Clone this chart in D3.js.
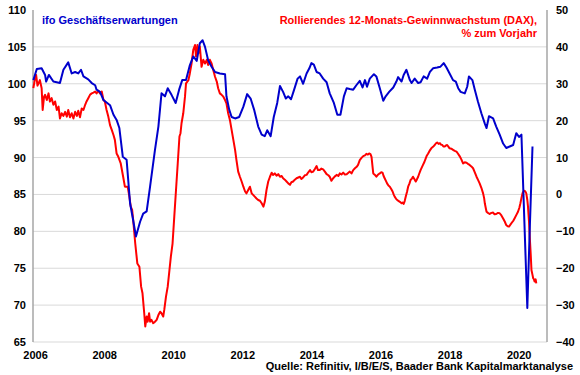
<!DOCTYPE html>
<html>
<head>
<meta charset="utf-8">
<script src="https://cdn.jsdelivr.net/npm/d3@7"></script>
<style>
  body { margin: 0; background: #fff; }
  svg text { font-family: "Liberation Sans", Arial, sans-serif; font-weight: bold; }
</style>
</head>
<body>
<div id="chart"></div>
<script>
// ifo Geschäftserwartungen (left axis)
const ifoYears = [2005.95, 2006.05, 2006.19, 2006.29, 2006.32, 2006.40, 2006.53, 2006.72, 2006.82, 2006.96,
  2007.06, 2007.16, 2007.25, 2007.33, 2007.40, 2007.54, 2007.64, 2007.74, 2007.78, 2007.88, 2007.98,
  2008.17, 2008.27, 2008.36, 2008.44, 2008.54, 2008.65, 2008.75, 2008.84, 2008.92,
  2009.04, 2009.13, 2009.23, 2009.33, 2009.47, 2009.57, 2009.66, 2009.76, 2009.84, 2009.95,
  2010.07, 2010.17, 2010.26, 2010.37, 2010.48, 2010.58, 2010.68, 2010.77, 2010.85, 2010.92,
  2011.01, 2011.11, 2011.21, 2011.35, 2011.50, 2011.54, 2011.62, 2011.69, 2011.79, 2011.91,
  2012.03, 2012.14, 2012.24, 2012.34, 2012.46, 2012.56, 2012.65, 2012.72, 2012.82, 2012.91,
  2013.01, 2013.09, 2013.18, 2013.26, 2013.33, 2013.41, 2013.50, 2013.60, 2013.67, 2013.76, 2013.86, 2013.94,
  2014.00, 2014.07, 2014.15, 2014.24, 2014.34, 2014.44, 2014.53, 2014.65, 2014.75, 2014.84, 2014.94,
  2015.02, 2015.11, 2015.21, 2015.30, 2015.40, 2015.48, 2015.55, 2015.61, 2015.69, 2015.81, 2015.88, 2015.98,
  2016.08, 2016.15, 2016.25, 2016.37, 2016.46, 2016.51, 2016.61, 2016.67, 2016.75, 2016.85, 2016.90, 2016.99,
  2017.09, 2017.16, 2017.25, 2017.35, 2017.43, 2017.52, 2017.64, 2017.73, 2017.83, 2017.91,
  2018.00, 2018.10, 2018.18, 2018.25, 2018.32, 2018.44, 2018.51, 2018.56, 2018.66, 2018.73, 2018.82, 2018.92,
  2019.02, 2019.07, 2019.14, 2019.26, 2019.35, 2019.45, 2019.55, 2019.64, 2019.74, 2019.84, 2019.93,
  2020.01, 2020.08, 2020.25, 2020.32, 2020.40];
const ifoValues = [100.5, 102.0, 102.1, 101.2, 100.3, 101.2, 100.3, 100.1, 101.9, 102.9,
  101.4, 101.6, 101.4, 101.9, 101.0, 100.6, 100.1, 99.8, 99.2, 98.9, 97.8,
  97.1, 95.8, 95.1, 94.0, 90.1, 89.7, 83.8, 81.5, 79.3,
  81.3, 82.4, 82.7, 86.1, 91.0, 94.2, 98.7, 98.3, 99.4, 98.5,
  97.4, 99.2, 100.5, 100.5, 102.5, 103.7, 103.1, 105.5, 105.9, 105.0,
  103.2, 102.3, 101.6, 101.4, 101.3, 98.3, 96.5, 95.5, 95.3, 95.5,
  96.9, 98.6, 98.0, 96.5, 94.2, 93.1, 92.9, 93.7, 92.9, 95.5,
  97.4, 99.7, 98.9, 98.0, 98.3, 97.9, 99.2, 100.7, 101.0, 100.0, 101.4, 102.1,
  102.8, 102.6, 101.6, 101.4, 100.7, 100.2, 98.7, 97.4, 95.8, 95.8, 98.3,
  99.4, 99.3, 99.2, 99.8, 100.4, 99.5, 100.5, 99.6, 100.7, 101.3, 101.0, 99.4,
  97.7, 98.3, 98.9, 99.5, 100.3, 100.9, 100.3, 101.2, 101.9, 100.5, 100.1, 100.7,
  100.1, 100.2, 101.0, 100.7, 101.6, 102.1, 102.2, 102.3, 102.8, 102.2,
  101.4, 100.5, 100.3, 99.4, 98.9, 98.7, 99.6, 101.0, 100.5, 99.2, 97.6, 96.0,
  94.6, 94.0, 95.6, 95.3, 94.2, 93.1, 91.9, 91.3, 91.5, 91.7, 93.3,
  92.8, 93.1, 69.6, 80.2, 91.5];

// Rollierendes 12-Monats-Gewinnwachstum DAX in % (right axis)
const daxYears = [2005.95, 2006.00, 2006.03, 2006.07, 2006.10, 2006.14, 2006.19, 2006.22, 2006.26, 2006.29,
  2006.34, 2006.39, 2006.43, 2006.48, 2006.53, 2006.58, 2006.63, 2006.68, 2006.72, 2006.77,
  2006.82, 2006.87, 2006.92, 2006.96, 2007.01, 2007.06, 2007.11, 2007.16, 2007.21, 2007.25,
  2007.30, 2007.35, 2007.40, 2007.45, 2007.49, 2007.54, 2007.59, 2007.64, 2007.69, 2007.74,
  2007.78, 2007.83, 2007.88, 2007.93, 2007.98, 2008.02, 2008.07, 2008.12, 2008.17, 2008.22,
  2008.27, 2008.31, 2008.36, 2008.41, 2008.48, 2008.55, 2008.60, 2008.68, 2008.73, 2008.77,
  2008.81, 2008.84, 2008.90, 2008.96, 2009.02, 2009.07, 2009.11, 2009.16, 2009.19, 2009.23,
  2009.26, 2009.30, 2009.33, 2009.37, 2009.42, 2009.47, 2009.52, 2009.57, 2009.62, 2009.66,
  2009.71, 2009.74, 2009.79, 2009.84, 2009.89, 2009.93, 2009.98, 2010.03, 2010.08, 2010.13,
  2010.18, 2010.21, 2010.24, 2010.29, 2010.34, 2010.37, 2010.44, 2010.48, 2010.53, 2010.58,
  2010.63, 2010.66, 2010.70, 2010.73, 2010.77, 2010.82, 2010.87, 2010.92, 2010.97, 2011.01,
  2011.06, 2011.11, 2011.16, 2011.21, 2011.26, 2011.30, 2011.35, 2011.40, 2011.45, 2011.50,
  2011.54, 2011.59, 2011.64, 2011.69, 2011.74, 2011.79, 2011.83, 2011.88, 2011.93, 2011.98,
  2012.03, 2012.08, 2012.12, 2012.17, 2012.22, 2012.27, 2012.32, 2012.36, 2012.41, 2012.46,
  2012.51, 2012.56, 2012.61, 2012.65, 2012.70, 2012.75, 2012.80, 2012.85, 2012.89, 2012.94,
  2012.99, 2013.04, 2013.09, 2013.14, 2013.18, 2013.23, 2013.28, 2013.33, 2013.38, 2013.42,
  2013.47, 2013.52, 2013.57, 2013.62, 2013.67, 2013.71, 2013.76, 2013.81, 2013.86, 2013.91,
  2013.96, 2014.00, 2014.05, 2014.10, 2014.15, 2014.19, 2014.24, 2014.29, 2014.34, 2014.39,
  2014.44, 2014.49, 2014.53, 2014.58, 2014.63, 2014.68, 2014.73, 2014.78, 2014.82, 2014.87,
  2014.92, 2014.97, 2015.02, 2015.07, 2015.11, 2015.16, 2015.21, 2015.26, 2015.31, 2015.35,
  2015.40, 2015.45, 2015.50, 2015.55, 2015.59, 2015.63, 2015.67, 2015.71, 2015.74, 2015.77,
  2015.79, 2015.84, 2015.88, 2015.93, 2015.98, 2016.02, 2016.06, 2016.09, 2016.12, 2016.16,
  2016.19, 2016.23, 2016.27, 2016.31, 2016.35, 2016.38, 2016.41, 2016.46, 2016.51, 2016.56,
  2016.61, 2016.64, 2016.67, 2016.70, 2016.73, 2016.77, 2016.80, 2016.84, 2016.87, 2016.91,
  2016.94, 2016.98, 2017.02, 2017.05, 2017.09, 2017.12, 2017.16, 2017.19, 2017.23, 2017.27,
  2017.31, 2017.34, 2017.38, 2017.42, 2017.47, 2017.52, 2017.57, 2017.60, 2017.64, 2017.68,
  2017.72, 2017.75, 2017.79, 2017.82, 2017.86, 2017.90, 2017.93, 2017.97, 2018.00, 2018.05,
  2018.10, 2018.15, 2018.20, 2018.24, 2018.29, 2018.34, 2018.39, 2018.44, 2018.49, 2018.53,
  2018.58, 2018.63, 2018.68, 2018.73, 2018.78, 2018.82, 2018.87, 2018.92, 2018.97, 2019.00,
  2019.02, 2019.05, 2019.07, 2019.11, 2019.16, 2019.21, 2019.26, 2019.30, 2019.35, 2019.40,
  2019.45, 2019.50, 2019.55, 2019.60, 2019.64, 2019.68, 2019.72, 2019.76, 2019.79, 2019.84,
  2019.88, 2019.93, 2019.98, 2020.02, 2020.05, 2020.08, 2020.11, 2020.14, 2020.17, 2020.20,
  2020.22, 2020.25, 2020.27, 2020.30, 2020.32, 2020.35, 2020.37, 2020.40, 2020.42, 2020.44,
  2020.46, 2020.49, 2020.51];
const daxValues = [28.8, 31.5, 32.4, 29.5, 30.1, 31.0, 28.8, 22.9, 26.5, 27.0,
  25.6, 27.4, 25.2, 26.1, 24.3, 25.2, 22.9, 23.8, 20.6, 22.0,
  21.3, 22.4, 21.1, 22.9, 20.9, 22.0, 20.6, 22.4, 21.3, 22.7,
  20.9, 23.3, 22.9, 24.3, 25.2, 26.1, 27.0, 27.4, 27.6, 27.9,
  27.4, 28.1, 27.4, 27.9, 25.6, 25.2, 22.9, 21.1, 18.8, 17.5,
  16.1, 14.8, 11.1, 10.2, 8.4, 4.8, 2.1, 2.1, -0.6, -3.3,
  -4.2, -6.9, -13.3, -18.7, -19.6, -25.0, -26.8, -32.2, -35.8, -33.1,
  -34.5, -32.2, -34.5, -34.0, -34.9, -34.5, -34.0, -32.7, -31.8, -32.2,
  -33.1, -31.3, -27.7, -25.0, -20.5, -16.9, -13.3, -6.0, 1.2, 8.4,
  15.7, 16.6, 19.3, 22.0, 26.5, 30.1, 31.0, 32.8, 35.5, 39.2,
  40.5, 37.4, 40.5, 38.3, 40.1, 34.6, 36.5, 35.5, 36.5, 35.1,
  36.5, 35.5, 33.7, 31.9, 30.6, 28.8, 27.4, 27.0, 26.5, 25.6,
  24.7, 22.0, 20.2, 17.5, 14.8, 12.1, 9.3, 6.2, 4.8, 3.5,
  2.1, 0.8, 0.3, 1.2, 2.1, 0.3, -0.2, -0.6, -1.1, -1.5,
  -1.7, -2.4, -3.3, -2.0, 1.2, 3.5, 4.8, 5.9, 5.3, 5.7,
  5.1, 5.5, 4.8, 5.0, 4.4, 4.0, 3.5, 3.0, 2.6, 3.3,
  3.5, 4.0, 4.4, 4.6, 4.8, 4.2, 4.6, 5.2, 5.3, 6.0,
  6.6, 6.0, 6.2, 6.9, 7.7, 6.6, 6.6, 7.0, 6.8, 6.2,
  5.5, 5.2, 4.8, 3.7, 4.4, 4.9, 5.3, 5.0, 5.7, 5.4,
  5.9, 5.4, 5.5, 5.9, 6.2, 5.7, 6.6, 7.1, 7.5, 8.0,
  9.3, 9.9, 10.4, 10.6, 11.0, 10.8, 11.1, 10.9, 10.2, 7.5,
  5.7, 5.3, 4.8, 5.4, 5.7, 6.0, 5.9, 5.0, 4.4, 3.6,
  3.0, 2.4, 2.1, 1.5, 0.8, 0.0, -0.6, -1.3, -1.7, -2.0,
  -2.4, -2.2, -2.6, -1.8, -0.6, 0.8, 2.1, 3.0, 3.9, 4.3,
  4.8, 4.2, 3.5, 4.0, 4.8, 5.6, 6.6, 7.2, 8.0, 8.8,
  9.8, 10.5, 11.1, 11.8, 12.5, 12.9, 13.4, 13.8, 14.1, 13.7,
  13.9, 13.5, 13.4, 13.0, 13.0, 13.3, 13.4, 12.9, 12.5, 12.4,
  12.1, 11.8, 11.6, 11.1, 10.4, 9.5, 8.4, 8.7, 8.6, 8.3,
  8.0, 7.6, 7.1, 6.0, 4.8, 4.0, 3.0, 1.8, 0.3, -1.0,
  -2.4, -3.8, -4.7, -5.0, -5.3, -5.0, -4.9, -5.4, -5.3, -5.0,
  -5.1, -5.7, -6.5, -7.4, -8.3, -8.6, -8.7, -8.2, -7.8, -7.2,
  -6.5, -5.6, -4.7, -3.6, -2.4, -1.0, 0.3, 0.8, 1.0, 0.7,
  0.3, -1.5, -3.3, -7.5, -11.4, -16.5, -20.5, -21.8, -22.7, -23.0,
  -23.6, -23.0, -24.1];

const leftTicks = [65, 70, 75, 80, 85, 90, 95, 100, 105, 110];
const rightTicks = [-40, -30, -20, -10, 0, 10, 20, 30, 40, 50];
const yearTicks = [2006, 2008, 2010, 2012, 2014, 2016, 2018, 2020];

const width = 580, height = 375;
const plot = { left: 33, right: 547, top: 10, bottom: 342 };

const svg = d3.select('#chart').append('svg')
  .attr('width', width)
  .attr('height', height);

const x = d3.scaleLinear().domain([2005.94, 2020.82]).range([plot.left, plot.right]);
const yL = d3.scaleLinear().domain([65, 110]).range([plot.bottom, plot.top]);
const yR = d3.scaleLinear().domain([-40, 50]).range([plot.bottom, plot.top]);

// horizontal grid lines (none on the top edge)
svg.append('g')
  .selectAll('line')
  .data(leftTicks.filter(t => t < 110))
  .enter().append('line')
  .attr('x1', plot.left).attr('x2', plot.right)
  .attr('y1', d => yL(d)).attr('y2', d => yL(d))
  .attr('stroke', '#d9d9d9')
  .attr('stroke-width', 1);

// axes
const axisL = svg.append('g')
  .attr('transform', `translate(${plot.left},0)`)
  .call(d3.axisLeft(yL).tickValues(leftTicks).tickSize(0).tickPadding(7));
const axisR = svg.append('g')
  .attr('transform', `translate(${plot.right},0)`)
  .call(d3.axisRight(yR).tickValues(rightTicks).tickSize(0).tickPadding(9));
const axisB = svg.append('g')
  .attr('transform', `translate(0,${plot.bottom})`)
  .call(d3.axisBottom(x).tickValues(yearTicks).tickFormat(d3.format('d')).tickSize(0).tickPadding(9));

[axisL, axisR, axisB].forEach(g => {
  g.select('.domain').remove();
  g.selectAll('text')
    .attr('fill', '#000')
    .style('font-size', '11px')
    .style('font-family', '"Liberation Sans", Arial, sans-serif')
    .style('font-weight', 'bold');
});

svg.append('line')
  .attr('x1', plot.left).attr('x2', plot.left)
  .attr('y1', plot.top).attr('y2', plot.bottom)
  .attr('stroke', '#a6a6a6').attr('stroke-width', 1.5);
svg.append('line')
  .attr('x1', plot.right).attr('x2', plot.right)
  .attr('y1', plot.top).attr('y2', plot.bottom)
  .attr('stroke', '#a6a6a6').attr('stroke-width', 1.5);

// lines
const dax = daxYears.map((yr, i) => ({ yr, v: daxValues[i] }));
const ifo = ifoYears.map((yr, i) => ({ yr, v: ifoValues[i] }));

svg.append('path')
  .datum(dax)
  .attr('fill', 'none')
  .attr('stroke', '#ff0000')
  .attr('stroke-width', 2)
  .attr('stroke-linejoin', 'round')
  .attr('d', d3.line().x(d => x(d.yr)).y(d => yR(d.v)));

svg.append('path')
  .datum(ifo)
  .attr('fill', 'none')
  .attr('stroke', '#0000cc')
  .attr('stroke-width', 2)
  .attr('stroke-linejoin', 'round')
  .attr('d', d3.line().x(d => x(d.yr)).y(d => yL(d.v)));

// titles
svg.append('text')
  .attr('x', 42)
  .attr('y', 24)
  .attr('fill', '#0000cc')
  .style('font-size', '11px')
  .text('ifo Geschäftserwartungen');

const red = svg.append('text')
  .attr('text-anchor', 'end')
  .attr('fill', '#ff0000')
  .style('font-size', '11px');
red.append('tspan').attr('x', 537).attr('y', 24).text('Rollierendes 12-Monats-Gewinnwachstum (DAX),');
red.append('tspan').attr('x', 537).attr('y', 37).text('% zum Vorjahr');

svg.append('text')
  .attr('x', 573)
  .attr('y', 370)
  .attr('text-anchor', 'end')
  .attr('fill', '#000')
  .style('font-size', '11px')
  .text('Quelle: Refinitiv, I/B/E/S, Baader Bank Kapitalmarktanalyse');
</script>
</body>
</html>
